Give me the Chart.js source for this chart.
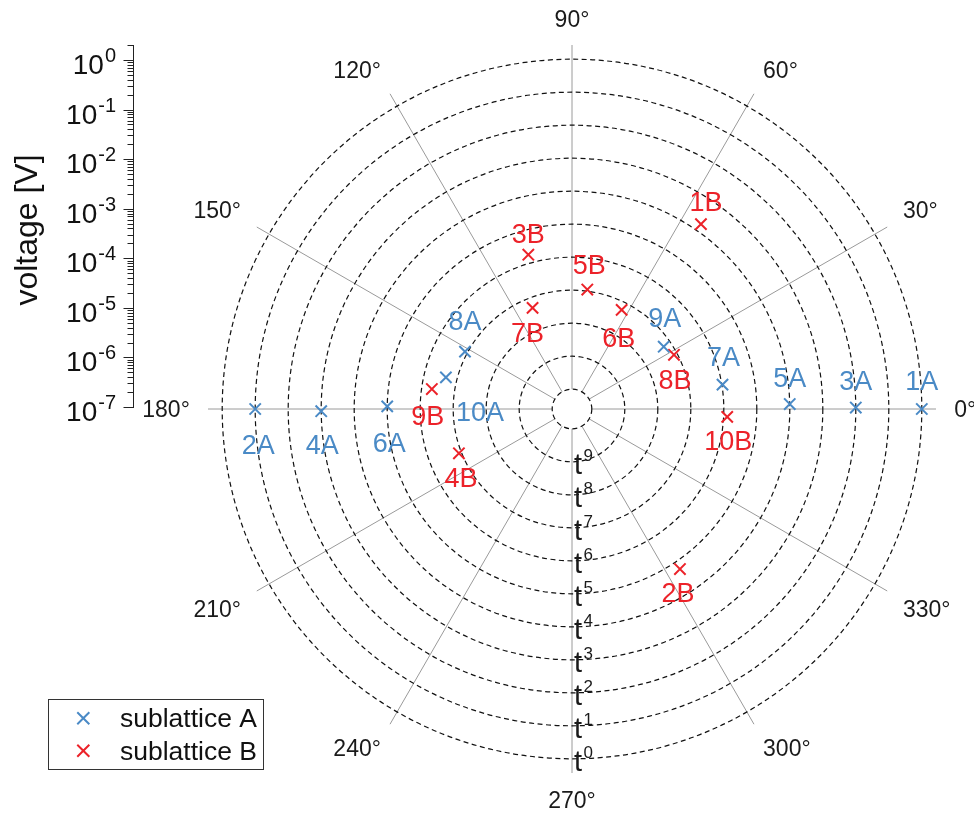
<!DOCTYPE html>
<html>
<head>
<meta charset="utf-8">
<script src="https://cdn.jsdelivr.net/npm/chart.js@4.4.1/dist/chart.umd.min.js"></script>
<style>
  html, body { margin: 0; padding: 0; background: #fff; }
  #wrap { position: relative; width: 974px; height: 816px; }
  #polar, #volt { position: absolute; left: 0; top: 0; }
</style>
</head>
<body>
<div id="wrap">
  <canvas id="polar" width="974" height="816"></canvas>
  <canvas id="volt" width="140" height="430"></canvas>
</div>
<script>
// data
const seriesNames = ['sublattice A', 'sublattice B'];
const pointNamesA = ['1A', '2A', '3A', '4A', '5A', '6A', '7A', '8A', '9A', '10A'];
const angleA = [0, 180, 0.3, 180.5, 1.3, 179.2, 9.2, 151.8, 34.2, 165.9];   // degrees
const powerA = [0, 1, 2, 3, 4, 5, 5.98, 6.92, 7.24, 6.66];                  // radial level t^k
const pointNamesB = ['1B', '2B', '3B', '4B', '5B', '6B', '7B', '8B', '9B', '10B'];
const angleB = [55.1, 304.0, 105.8, 201.4, 82.7, 63.4, 111.3, 28.0, 171.9, 357.1];
const powerB = [3.77, 4.75, 5.74, 6.92, 6.95, 7.24, 7.31, 7.10, 6.31, 5.89];
const ringPowers = [0, 1, 2, 3, 4, 5, 6, 7, 8, 9, 10];   // dashed circles, t^0 outside
const ringLabels = [0, 1, 2, 3, 4, 5, 6, 7, 8, 9];       // t^k labels drawn
const angleTicks = [0, 30, 60, 90, 120, 150, 180, 210, 240, 270, 300, 330];
const voltDecades = [-7, -6, -5, -4, -3, -2, -1, 0];    // 10^n

// look
const blue = '#4a8ac6';
const red = '#ec2229';
const FONT = '"Liberation Sans", Arial, sans-serif';
const rOuter = 10.6;   // radius of the t^0 ring (hole ring t^10 sits at 0.6)
const unit = 33;       // px per radial step
const cx = 572, cy = 409;

// label offsets (px) of the point names from their marker
const offA = [[0, -29], [3, 35], [0, -27], [1, 33], [0, -27], [2, 36], [1, -28], [0, -31], [1, -29], [34, 34]];
const offB = [[5, -23], [-2, 23], [0, -21], [2, 24], [2, -25], [-3, 27], [-5, 24], [1, 25], [-4, 26], [1, 23]];

const toXY = (angles, powers) => angles.map((a, i) => {
  const r = rOuter - powers[i], t = a * Math.PI / 180;
  return { x: r * Math.cos(t), y: r * Math.sin(t) };
});

const deg = a => a * Math.PI / 180;

const polarGrid = {
  id: 'polarGrid',
  beforeDatasetsDraw(chart) {
    const { ctx, scales: { x, y } } = chart;
    const ox = x.getPixelForValue(0), oy = y.getPixelForValue(0);
    const rad = v => x.getPixelForValue(v) - ox;
    ctx.save();
    // spokes
    ctx.strokeStyle = '#9a9a9a';
    ctx.lineWidth = 1;
    const r0 = rad(rOuter - 10), r1 = rad(rOuter + 0.43);
    angleTicks.forEach(a => {
      const c = Math.cos(deg(a)), s = Math.sin(deg(a));
      ctx.beginPath();
      ctx.moveTo(ox + r0 * c, oy - r0 * s);
      ctx.lineTo(ox + r1 * c, oy - r1 * s);
      ctx.stroke();
    });
    // rings
    ctx.strokeStyle = '#111';
    ctx.lineWidth = 1.2;
    ctx.setLineDash([5, 3.5]);
    ringPowers.forEach(k => {
      ctx.beginPath();
      ctx.arc(ox, oy, rad(rOuter - k), 0, Math.PI * 2);
      ctx.stroke();
    });
    ctx.setLineDash([]);
    // angle labels
    ctx.fillStyle = '#1a1a1a';
    ctx.font = '23px ' + FONT;
    ctx.textBaseline = 'alphabetic';
    const rl = rad(rOuter + 0.98), capH = 23 * 0.716;
    angleTicks.forEach(a => {
      const c = Math.cos(deg(a)), s = Math.sin(deg(a));
      const px = ox + rl * c, py = oy - rl * s;
      ctx.textAlign = c > 0.1 ? 'left' : c < -0.1 ? 'right' : 'center';
      const base = s > 0.1 ? py : s < -0.1 ? py + capH : py + capH / 2;
      ctx.fillText(a + '°', px, base);
    });
    // t^k labels along 270°
    ctx.textAlign = 'left';
    ringLabels.forEach(k => {
      const ry = oy + rad(rOuter - k);
      ctx.font = '29px ' + FONT;
      ctx.fillText('t', ox + 2, ry + 12);
      ctx.font = '17px ' + FONT;
      ctx.fillText(String(k), ox + 11.5, ry - 1);
    });
    ctx.restore();
  },
  afterDatasetsDraw(chart) {
    const { ctx } = chart;
    const names = [pointNamesA, pointNamesB], offs = [offA, offB];
    ctx.save();
    ctx.font = '27px ' + FONT;
    ctx.textAlign = 'center';
    ctx.textBaseline = 'alphabetic';
    chart.data.datasets.forEach((ds, d) => {
      ctx.fillStyle = ds.borderColor;
      chart.getDatasetMeta(d).data.forEach((el, i) => {
        const [dx, dy] = offs[d][i];
        ctx.fillText(names[d][i], el.x + dx, el.y + dy + 9.7);
      });
    });
    ctx.restore();
  },
  afterDraw(chart) {
    // legend box, bottom left
    const { ctx } = chart;
    ctx.save();
    ctx.fillStyle = '#fff';
    ctx.fillRect(48.5, 699.5, 215, 70);
    ctx.strokeStyle = '#333';
    ctx.lineWidth = 1;
    ctx.strokeRect(48.5, 699.5, 215, 70);
    chart.data.datasets.forEach((ds, d) => {
      const yy = 718.3 + d * 32.4;
      ctx.strokeStyle = ds.borderColor;
      ctx.lineWidth = 2;
      Chart.helpers.drawPoint(ctx, { pointStyle: 'crossRot', radius: 8.5, borderWidth: 2, rotation: 0 }, 83.3, yy);
      ctx.fillStyle = '#111';
      ctx.font = '26.5px ' + FONT;
      ctx.textAlign = 'left';
      ctx.textBaseline = 'alphabetic';
      ctx.fillText(ds.label, 120, yy + 9);
    });
    ctx.restore();
  }
};

new Chart('polar', {
  type: 'scatter',
  data: {
    datasets: [{
      label: seriesNames[0],
      data: toXY(angleA, powerA),
      pointStyle: 'crossRot',
      pointRadius: 8,
      pointBorderWidth: 2,
      borderColor: blue,
      backgroundColor: blue
    }, {
      label: seriesNames[1],
      data: toXY(angleB, powerB),
      pointStyle: 'crossRot',
      pointRadius: 8,
      pointBorderWidth: 2,
      borderColor: red,
      backgroundColor: red
    }]
  },
  options: {
    responsive: false,
    animation: false,
    layout: { padding: 0, autoPadding: false },
    scales: {
      x: { type: 'linear', display: false, min: -cx / unit, max: (974 - cx) / unit },
      y: { type: 'linear', display: false, min: -(816 - cy) / unit, max: cy / unit }
    },
    plugins: { legend: { display: false }, tooltip: { enabled: false } }
  },
  plugins: [polarGrid]
});

// the voltage axis on the left
const voltAxis = {
  id: 'voltAxis',
  afterDraw(chart) {
    const { ctx, chartArea, scales: { y } } = chart;
    const ax = chartArea.left + 0.5;
    ctx.save();
    ctx.strokeStyle = '#222';
    ctx.lineWidth = 1;
    ctx.beginPath();
    ctx.moveTo(ax, chartArea.top);
    ctx.lineTo(ax, chartArea.bottom);
    ctx.stroke();
    ctx.fillStyle = '#111';
    ctx.textBaseline = 'alphabetic';
    ctx.textAlign = 'left';
    voltDecades.forEach(n => {
      const yy = Math.round(y.getPixelForValue(Math.pow(10, n))) - 0.5;
      ctx.beginPath();
      ctx.moveTo(ax - 10, yy);
      ctx.lineTo(ax, yy);
      ctx.stroke();
      for (let m = 2; m <= 9; m++) {
        const v = m * Math.pow(10, n);
        if (v > y.max) break;
        const ym = Math.round(y.getPixelForValue(v)) - 0.5;
        ctx.beginPath();
        ctx.moveTo(ax - 6, ym);
        ctx.lineTo(ax, ym);
        ctx.stroke();
      }
      ctx.font = '28px ' + FONT;
      const w1 = ctx.measureText('10').width;
      ctx.font = '20px ' + FONT;
      const w2 = ctx.measureText(String(n)).width;
      const right = ax - 17.5;
      ctx.font = '28px ' + FONT;
      ctx.fillText('10', right - w2 - w1 - 1, yy + 13);
      ctx.font = '20px ' + FONT;
      ctx.fillText(String(n), right - w2, yy + 1);
    });
    ctx.translate(28, 230);
    ctx.rotate(-Math.PI / 2);
    ctx.font = '32px ' + FONT;
    ctx.textAlign = 'center';
    ctx.textBaseline = 'middle';
    ctx.fillText('voltage [V]', 0, 0);
    ctx.restore();
  }
};

new Chart('volt', {
  type: 'scatter',
  data: { datasets: [] },
  options: {
    responsive: false,
    animation: false,
    layout: { padding: { left: 133, right: 3, top: 45, bottom: 22 }, autoPadding: false },
    scales: {
      x: { type: 'linear', display: false, min: 0, max: 1 },
      y: { type: 'logarithmic', display: false, min: 1e-7, max: 2.1 }
    },
    plugins: { legend: { display: false }, tooltip: { enabled: false } }
  },
  plugins: [voltAxis]
});
</script>
</body>
</html>
